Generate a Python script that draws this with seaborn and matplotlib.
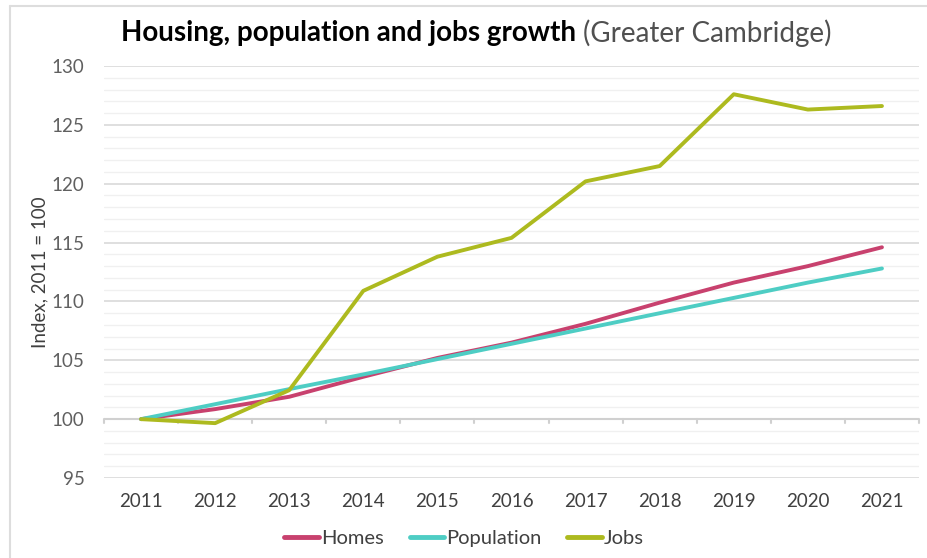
import matplotlib
matplotlib.use("Agg")
import matplotlib.pyplot as plt
from matplotlib.lines import Line2D
import seaborn as sns
import pandas as pd
import numpy as np

years = ["2011", "2012", "2013", "2014", "2015", "2016", "2017", "2018", "2019", "2020", "2021"]
homes = [100.0, 100.85, 101.9, 103.6, 105.2, 106.5, 108.1, 109.9, 111.6, 113.0, 114.6]
population = [100.0, 101.27, 102.55, 103.8, 105.1, 106.4, 107.7, 109.0, 110.3, 111.6, 112.8]
jobs = [100.0, 99.66, 102.46, 110.9, 113.8, 115.4, 120.2, 121.5, 127.6, 126.3, 126.6]
series_names = ["Homes", "Population", "Jobs"]
colors = ["#C8416E", "#4ECDC4", "#ADBA1F"]

df = pd.DataFrame({"Year": years, "Homes": homes, "Population": population, "Jobs": jobs})
long = df.melt(id_vars="Year", var_name="Series", value_name="Index")
long["x"] = long["Year"].map({y: i for i, y in enumerate(years)})

sns.set_style("white")
plt.rcParams["font.family"] = ["Lato", "DejaVu Sans"]

fig = plt.figure(figsize=(9.28, 5.58), dpi=100)
ax = fig.add_axes([104/928, 1 - 478/558, (919-104)/928, (478-66)/558])

sns.lineplot(data=long, x="x", y="Index", hue="Series", hue_order=series_names,
             palette=colors, linewidth=2.8, ax=ax, legend=False, zorder=3)

ax.set_xlim(-0.5, 10.5)
ax.set_ylim(95, 130)
ax.set_yticks(np.arange(95, 131, 5))
ax.set_yticks(np.arange(95, 131, 1), minor=True)
ax.yaxis.grid(True, which="major", color="#D9D9D9", linewidth=1.2)
ax.yaxis.grid(True, which="minor", color="#F0F0F0", linewidth=1.0)
ax.set_axisbelow(True)
ax.tick_params(axis="y", which="both", length=0, labelsize=13.5, labelcolor="#606060", pad=14)
ax.set_xticks(range(len(years)))
ax.set_xticklabels(years)
ax.tick_params(axis="x", length=0, labelsize=13.5, labelcolor="#404040", pad=11)
for s in ax.spines.values():
    s.set_visible(False)
# category axis line at 100 with boundary tick marks
ax.axhline(100, color="#D0D0D0", linewidth=1.5, zorder=2)
for b in np.arange(-0.5, 11, 1):
    ax.plot([b, b], [100, 99.65], color="#D0D0D0", linewidth=1.5, zorder=2, clip_on=False)

ax.set_xlabel("")
ax.set_ylabel("Index, 2011 = 100", fontsize=13.5, color="#404040", labelpad=2)

t1 = fig.text(121/928, 1 - 33/558, "Housing, population and jobs growth", fontsize=20,
              fontweight="bold", color="#000000", va="center", ha="left")
fig.canvas.draw()
bb = t1.get_window_extent()
fig.text((bb.x1 + 7)/928, 1 - 33/558, "(Greater Cambridge)", fontsize=20,
         color="#505050", va="center", ha="left")

handles = [Line2D([0], [0], color=c, linewidth=3.5) for c in colors]
fig.legend(handles, series_names, loc="center", bbox_to_anchor=(0.5, 1 - 538/558), ncol=3,
           frameon=False, fontsize=14.5, handlelength=1.7, handletextpad=0.1, columnspacing=1.3,
           labelcolor="#404040")

fig.add_artist(Line2D([10/928, 10/928], [0, 1 - 6/558], color="#DDDDDD", linewidth=1.5))
fig.add_artist(Line2D([10/928, 1], [1 - 6/558, 1 - 6/558], color="#DDDDDD", linewidth=1.5))

fig.savefig("out.png", dpi=100, facecolor="white")
